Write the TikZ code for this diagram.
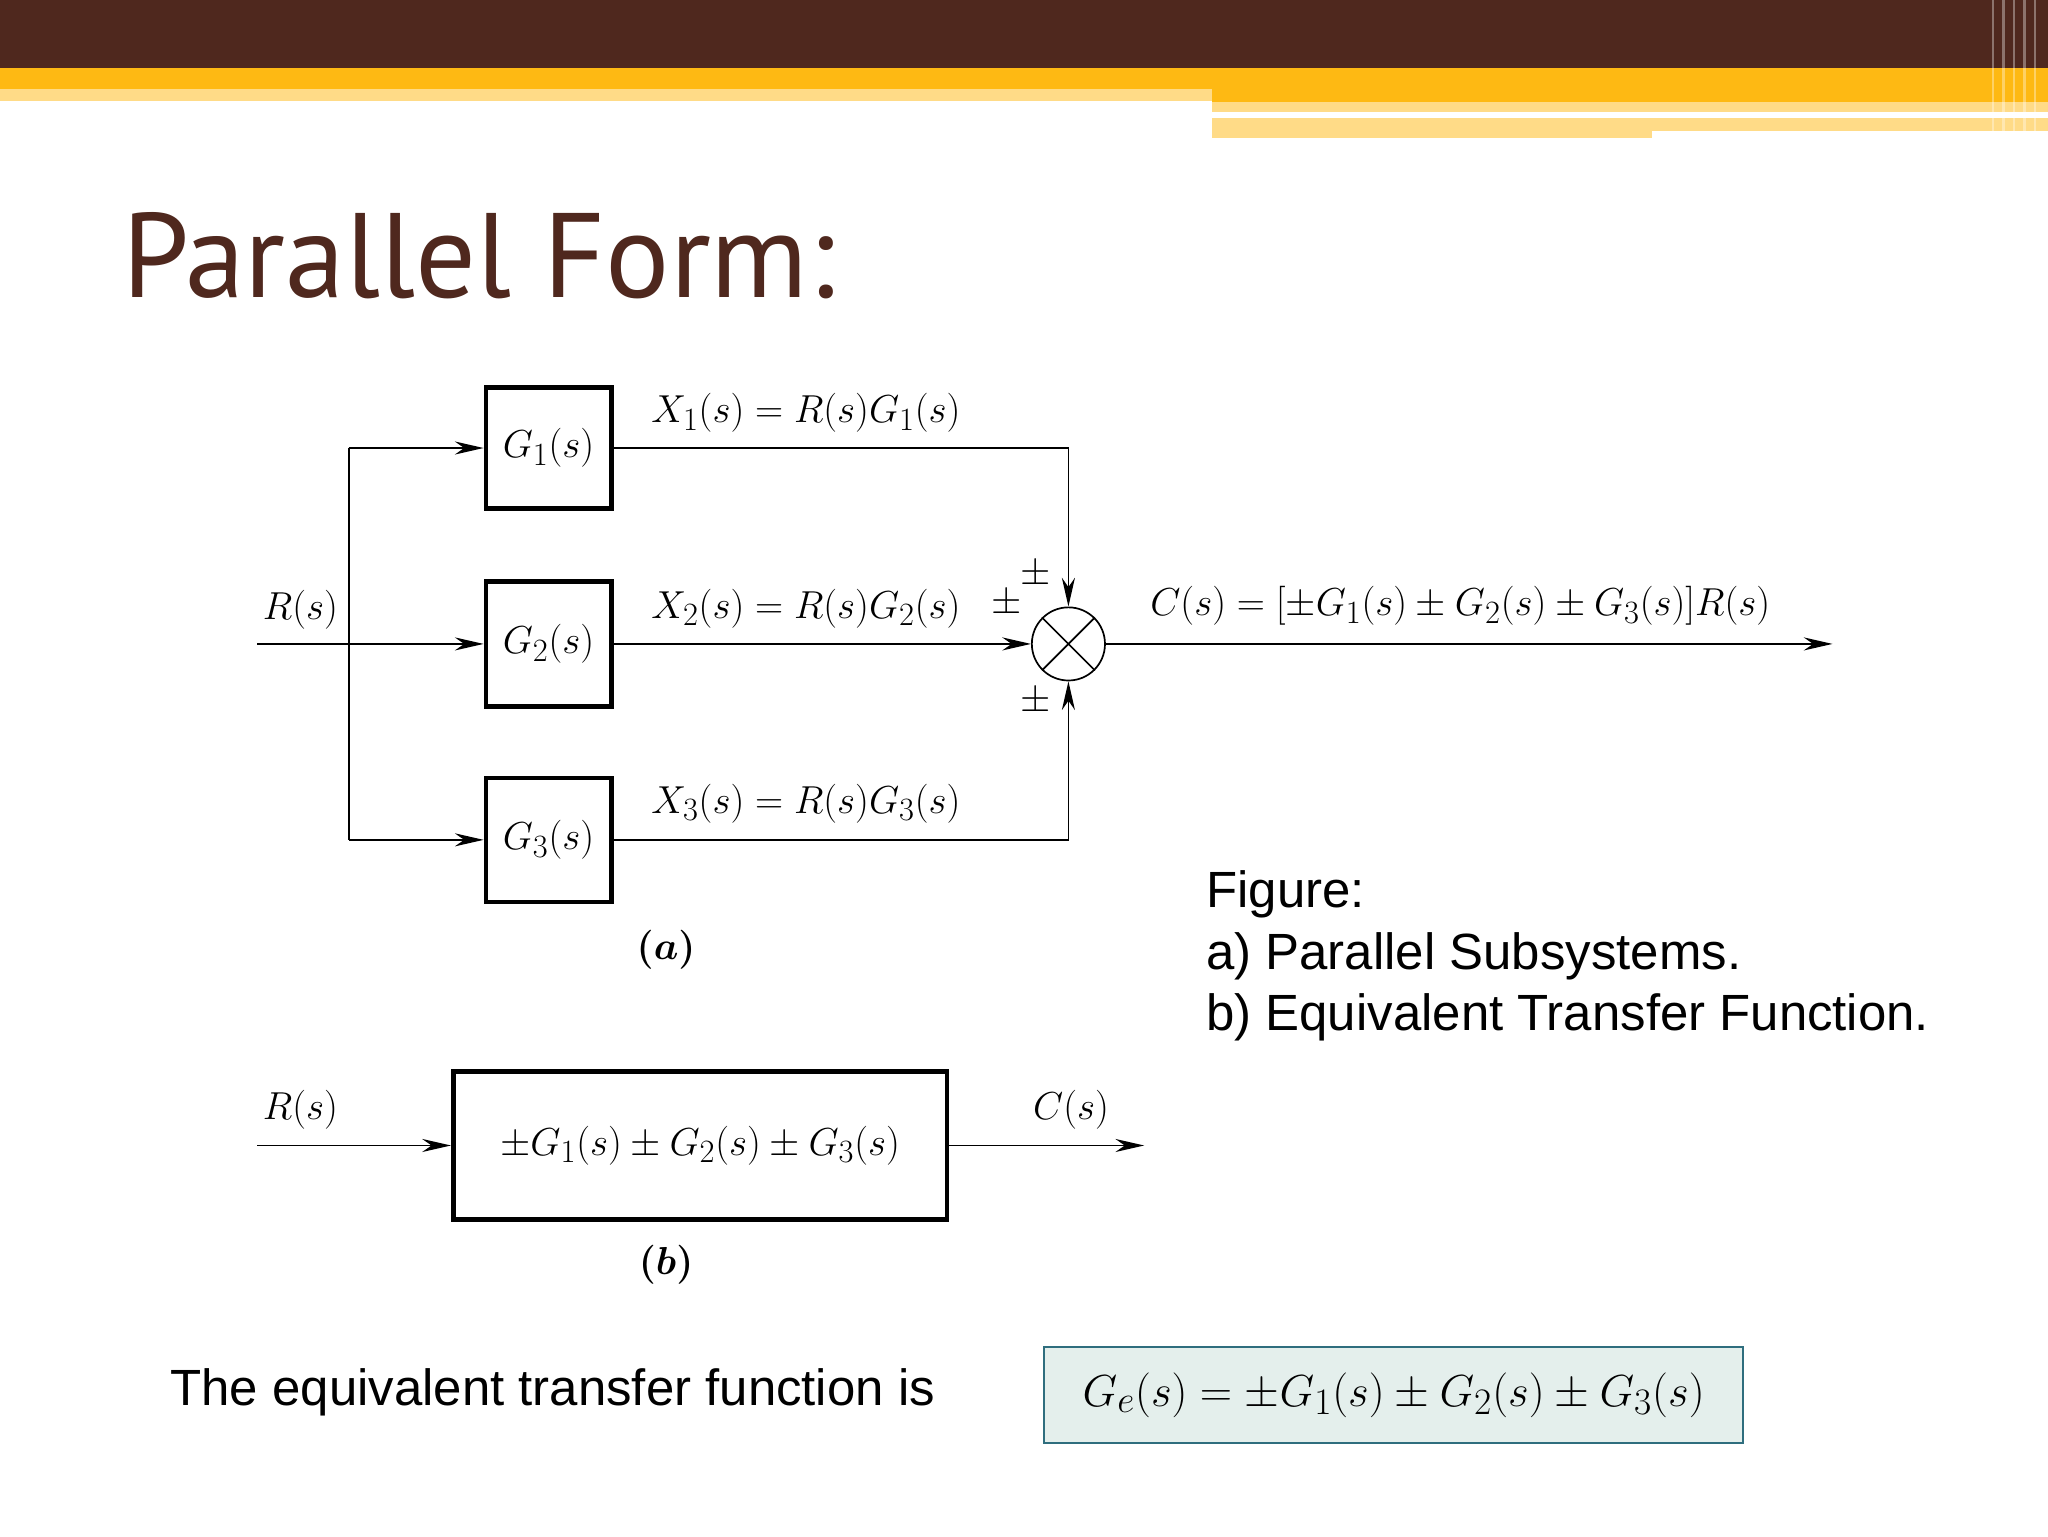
\documentclass[tikz,border=0pt]{standalone}
\usepackage{fontspec}
\usepackage{amsmath}
\setmainfont{Liberation Sans}
\newfontfamily\titlefont{PT Sans}
\usetikzlibrary{arrows.meta}
\definecolor{brownbar}{HTML}{4F281E}
\definecolor{orangebar}{HTML}{FEB913}
\definecolor{lightbar}{HTML}{FFDB87}
\definecolor{eqfill}{HTML}{E4EFEC}
\definecolor{eqborder}{HTML}{2F6E7E}
\tikzset{
  blk/.style={draw,line width=3.5pt,inner sep=0pt},
  wire/.style={line width=1.3pt},
  arr/.style={wire,-{Stealth[length=22pt,width=10pt]}},
  mlab/.style={font=\fontsize{24.88}{30}\selectfont,scale=1.2},
  body/.style={font=\fontsize{39}{47}\selectfont,align=left,anchor=west},
}
\begin{document}
\begin{tikzpicture}[x=1pt,y=-1pt]
\useasboundingbox (0,0) rectangle (1568,1176);
\fill[white] (0,0) rectangle (1568,1176);
% header
\fill[brownbar] (0,0) rectangle (1568,52);
\fill[orangebar] (0,52) rectangle (1568,68);
\fill[lightbar] (0,68) rectangle (928,77);
\fill[orangebar] (928,68) rectangle (1568,78);
\fill[lightbar] (928,78) rectangle (1568,86);
\fill[lightbar] (928,90) rectangle (1568,106);
\fill[white] (1265,100) rectangle (1568,106);
\foreach \x in {1525,1533,1541,1549,1557} \fill[white,opacity=0.35] (\x,0) rectangle ++(2,106);
% title
\node[anchor=west,text=brownbar,font=\titlefont\fontsize{92}{100}\selectfont] (title) at (90,196) {Parallel Form:};
% blocks (a)
\node[blk,minimum width=96pt,minimum height=93pt] (g1) at (420,343) {};
\node[blk,minimum width=96pt,minimum height=96pt] (g2) at (420,493) {};
\node[blk,minimum width=96pt,minimum height=95pt] (g3) at (420,643) {};
\node[mlab] (t1) at (g1) {$G_1(s)$};
\node[mlab] (t2) at (g2) {$G_2(s)$};
\node[mlab] (t3) at (g3) {$G_3(s)$};
\node[draw,circle,wire,minimum size=56pt,inner sep=0pt] (sum) at (818,493) {};
\draw[wire] (sum.north west) -- (sum.south east) (sum.north east) -- (sum.south west);
\coordinate (in) at (197,493);
\coordinate (out) at (1403,493);
\draw[arr] (in) -- (g2.west);
\draw[wire] (267,343) -- (267,643);
\draw[arr] (267,343) -- (g1.west);
\draw[arr] (267,643) -- (g3.west);
\draw[arr] (g1.east) -| (sum.north);
\draw[arr] (g2.east) -- (sum.west);
\draw[arr] (g3.east) -| (sum.south);
\draw[arr] (sum.east) -- (out);
\node[mlab] (l1) at (617,316) {$X_1(s)=R(s)G_1(s)$};
\node[mlab] (l2) at (617,466) {$X_2(s)=R(s)G_2(s)$};
\node[mlab] (l3) at (617,615) {$X_3(s)=R(s)G_3(s)$};
\node[mlab] (p1) at (793,440) {$\pm$};
\node[mlab] (p2) at (771,462) {$\pm$};
\node[mlab] (p3) at (793,537) {$\pm$};
\node[mlab] (lr) at (230,467) {$R(s)$};
\node[mlab] (lc) at (1118,464) {$C(s)=[\pm G_1(s)\pm G_2(s)\pm G_3(s)]R(s)$};
\node[mlab] (la) at (510,727) {$\boldsymbol{(a)}$};
% (b)
\node[blk,minimum width=378pt,minimum height=113pt] (ge) at (536,877) {};
\node[mlab] (tge) at (ge) {$\pm G_1(s)\pm G_2(s)\pm G_3(s)$};
\coordinate (inb) at (197,877);
\coordinate (outb) at (876,877);
\draw[arr] (inb) -- (ge.west);
\draw[arr] (ge.east) -- (outb);
\node[mlab] (lrb) at (230,850) {$R(s)$};
\node[mlab] (lcb) at (820,850) {$C(s)$};
\node[mlab] (lb) at (510,968) {$\boldsymbol{(b)}$};
% text
\node[body] (fig) at (920,732) {Figure:\\a) Parallel Subsystems.\\b) Equivalent Transfer Function.};
\node[body] (eqt) at (127,1066) {The equivalent transfer function is};
\node[draw=eqborder,fill=eqfill,line width=1.5pt,minimum width=535pt,minimum height=73pt] (eq) at (1067,1068) {};
\node[font=\fontsize{24.88}{30}\selectfont,scale=1.38] (eqtx) at (eq) {$G_e(s)=\pm G_1(s)\pm G_2(s)\pm G_3(s)$};
\end{tikzpicture}
\end{document}
